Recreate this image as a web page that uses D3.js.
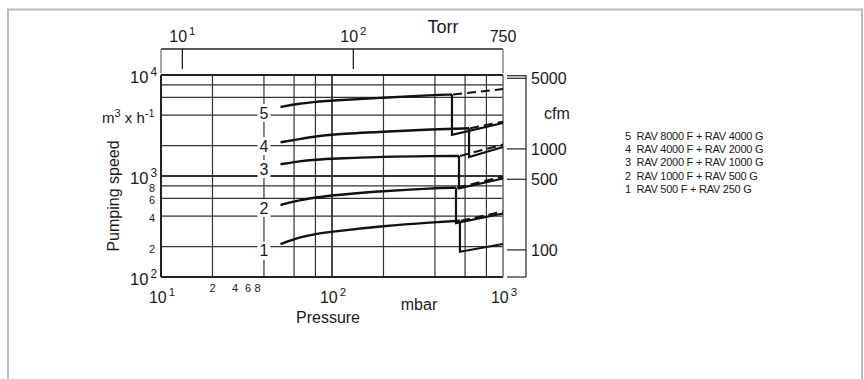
<!DOCTYPE html>
<html><head><meta charset="utf-8">
<script src="https://cdn.jsdelivr.net/npm/d3@7"></script>
<style>
body{margin:0;background:#fff}
svg{display:block}
text{font-family:"Liberation Sans",Arial,Helvetica,sans-serif;fill:#1a1a1a}
</style>
</head><body>
<svg id="chart" width="864" height="379"></svg>
<script>
// ---------------- data ----------------
const pressureDomain = [10, 1000];          // mbar
const speedDomain = [100, 10000];           // m3/h
const xGridValues = [20, 40, 60, 80, 100, 200, 400, 600, 800];
const yGridValues = [200, 400, 600, 800, 1000, 2000, 4000, 6000, 8000];
const yMinorLabelValues = [800, 600, 400, 200];
const yMinorLabels = ["8", "6", "4", "2"];
const xMinorLabels = ["2", "4", "6", "8"];
const xMinorLabelValues = [2, 4, 6, 8];
const xDecades = [1, 2, 3];   // 10^1..10^3 mbar
const yDecades = [4, 3, 2];   // 10^4..10^2 m3/h
const torrTicks = [10, 100, 750];
const torrLabels = ["10^1", "10^2", "750"];
const cfmTicks = [5000, 1000, 500, 100];
const cfmToM3h = 1.855;

const curveIds = [5, 4, 3, 2, 1];
const mainPressure = [
  [50, 65, 80, 100, 200, 390, 503],
  [50, 65, 80, 100, 200, 390, 633],
  [50, 65, 80, 100, 200, 390, 553],
  [50, 65, 80, 100, 200, 390, 531],
  [50, 65, 80, 100, 200, 390, 560]
];
const mainSpeed = [
  [4820, 5220, 5430, 5590, 5960, 6340, 6410],
  [2157, 2324, 2461, 2587, 2746, 2900, 2967],
  [1306, 1408, 1450, 1484, 1553, 1578, 1580],
  [516, 579, 613, 644, 710, 755, 766],
  [212, 249, 267, 281, 320, 348, 361]
];
const dropSpeed = [2550, 1542, 755, 342, 178];      // after switch-over
const backingEndSpeed = [3350, 1937, 945, 425, 212];  // at 1000 mbar
const dashedEndSpeed = [7270, 3450, 2050, 989, 445];  // at 1000 mbar
const curveLabelSpeed = [4205, 1982, 1173, 482, 182];
const curveLabelPressure = 40;

const legendItems = [
  "5  RAV 8000 F + RAV 4000 G",
  "4  RAV 4000 F + RAV 2000 G",
  "3  RAV 2000 F + RAV 1000 G",
  "2  RAV 1000 F + RAV 500 G",
  "1  RAV 500 F + RAV 250 G"
];

// ---------------- layout ----------------
const svg = d3.select("#chart");
const L = 161, R = 503, T = 75, B = 277;
const x = d3.scaleLog().domain(pressureDomain).range([L, R]);
const y = d3.scaleLog().domain(speedDomain).range([B, T]);
const xTorr = d3.scaleLog().domain([pressureDomain[0] * 0.750062, pressureDomain[1] * 0.750062]).range([L, R]);
const yCfm = v => y(v * cfmToM3h);

// outer frame
svg.append("path").attr("d", "M8,381V9.5H862V381")
  .attr("fill", "none").attr("stroke", "#bcbcbc").attr("stroke-width", 2);

const grid = svg.append("g");
xGridValues.forEach(v => {
  grid.append("line").attr("x1", x(v)).attr("x2", x(v)).attr("y1", T).attr("y2", B)
    .attr("stroke", "#333").attr("stroke-width", v === 100 ? 1.8 : 1.2);
});
yGridValues.forEach(v => {
  grid.append("line").attr("x1", L).attr("x2", R).attr("y1", y(v)).attr("y2", y(v))
    .attr("stroke", "#333").attr("stroke-width", v === 1000 ? 1.8 : 1.2);
});
// plot border
svg.append("line").attr("x1", L).attr("x2", R).attr("y1", T).attr("y2", T).attr("stroke", "#222").attr("stroke-width", 2);
svg.append("line").attr("x1", L).attr("x2", R).attr("y1", B).attr("y2", B).attr("stroke", "#222").attr("stroke-width", 2);
svg.append("line").attr("x1", L).attr("x2", L).attr("y1", T).attr("y2", B).attr("stroke", "#222").attr("stroke-width", 2);
svg.append("line").attr("x1", R).attr("x2", R).attr("y1", T).attr("y2", B).attr("stroke", "#666").attr("stroke-width", 1.5);

// superscript label helper
function powLabel(g, px, py, base, exp, size, anchor) {
  const t = g.append("text").attr("x", px).attr("y", py).attr("font-size", size).attr("text-anchor", anchor);
  t.append("tspan").text(base);
  t.append("tspan").attr("dy", -size * 0.45).attr("dx", 2).attr("font-size", size * 0.72).text(exp);
  return t;
}

// left axis labels
yDecades.forEach(e => powLabel(svg, 157, y(Math.pow(10, e)) + 8, "10", e, 16.5, "end"));
yMinorLabelValues.forEach((v, i) => {
  svg.append("text").attr("x", 155).attr("y", y(v) + 6).attr("font-size", 11)
    .attr("text-anchor", "end").text(yMinorLabels[i]);
});
// unit m3 x h-1
const unit = svg.append("text").attr("x", 102).attr("y", 123).attr("font-size", 15);
unit.append("tspan").text("m");
unit.append("tspan").attr("dy", -6).attr("font-size", 11).text("3");
unit.append("tspan").attr("dy", 6).text(" x h");
unit.append("tspan").attr("dy", -6).attr("font-size", 11).text("-1");
svg.append("text").attr("transform", "translate(119,196) rotate(-90)")
  .attr("text-anchor", "middle").attr("font-size", 16).text("Pumping speed");

// bottom axis labels
xDecades.forEach(e => powLabel(svg, x(Math.pow(10, e)) + 1, 303, "10", e, 16, "middle"));
const xMinorScale = d3.scaleLog().domain([2, 8]).range([x(20), x(20) + 45]);
xMinorLabelValues.forEach((v, i) => {
  svg.append("text").attr("x", xMinorScale(v)).attr("y", 292).attr("font-size", 11)
    .attr("text-anchor", "middle").text(xMinorLabels[i]);
});
svg.append("text").attr("x", 419).attr("y", 310).attr("font-size", 16).attr("text-anchor", "middle").text("mbar");
svg.append("text").attr("x", 328).attr("y", 323).attr("font-size", 16).attr("text-anchor", "middle").text("Pressure");

// top Torr axis
const topY = 49;
svg.append("line").attr("x1", L).attr("x2", R).attr("y1", topY).attr("y2", topY).attr("stroke", "#222").attr("stroke-width", 1.5);
[L, R].forEach(px => svg.append("line").attr("x1", px).attr("x2", px).attr("y1", topY).attr("y2", T - 2)
  .attr("stroke", "#888").attr("stroke-width", 1.5));
torrTicks.slice(0, 2).forEach(v => svg.append("line").attr("x1", xTorr(v)).attr("x2", xTorr(v))
  .attr("y1", topY).attr("y2", topY + 20).attr("stroke", "#222").attr("stroke-width", 1.3));
torrTicks.forEach((v, i) => {
  const lab = torrLabels[i];
  if (lab.includes("^")) {
    const [b, e] = lab.split("^");
    powLabel(svg, xTorr(v), 41.7, b, e, 16, "middle");
  } else {
    svg.append("text").attr("x", xTorr(v)).attr("y", 41.7).attr("font-size", 16).attr("text-anchor", "middle").text(lab);
  }
});
svg.append("text").attr("x", 443).attr("y", 33).attr("font-size", 18).attr("text-anchor", "middle").text("Torr");

// right cfm axis
const rx = 526, rt = 507;
svg.append("line").attr("x1", rx).attr("x2", rx).attr("y1", T).attr("y2", B).attr("stroke", "#333").attr("stroke-width", 1.3);
svg.append("line").attr("x1", rt).attr("x2", rx).attr("y1", T + 0.7).attr("y2", T + 0.7).attr("stroke", "#333").attr("stroke-width", 1.3);
svg.append("line").attr("x1", rt).attr("x2", rx).attr("y1", B).attr("y2", B).attr("stroke", "#333").attr("stroke-width", 1.3);
cfmTicks.forEach(v => {
  svg.append("line").attr("x1", rt).attr("x2", rx).attr("y1", yCfm(v)).attr("y2", yCfm(v))
    .attr("stroke", "#333").attr("stroke-width", 1.3);
  svg.append("text").attr("x", 531).attr("y", yCfm(v)).attr("dy", "0.36em").attr("font-size", 16).text(v);
});
svg.append("text").attr("x", 544).attr("y", (yCfm(cfmTicks[0]) + yCfm(cfmTicks[1])) / 2)
  .attr("dy", "0.36em").attr("font-size", 16).text("cfm");

// curve labels with white boxes
const labG = svg.append("g");
curveIds.forEach((id, i) => {
  const cx = x(curveLabelPressure), cy = y(curveLabelSpeed[i]);
  labG.append("rect").attr("x", cx - 6.5).attr("y", cy - 9).attr("width", 13).attr("height", 18).attr("fill", "#fff");
  labG.append("text").attr("x", cx).attr("y", cy).attr("dy", "0.36em").attr("font-size", 16)
    .attr("text-anchor", "middle").text(id);
});

// curves
const smooth = d3.line().x(d => x(d[0])).y(d => y(d[1])).curve(d3.curveBasis);
const straight = d3.line().x(d => x(d[0])).y(d => y(d[1]));
const cg = svg.append("g").attr("fill", "none").attr("stroke", "#111");
curveIds.forEach((id, i) => {
  const pts = mainPressure[i].map((p, j) => [p, mainSpeed[i][j]]);
  const last = pts[pts.length - 1];
  cg.append("path").attr("d", smooth(pts)).attr("stroke-width", 2.4);
  cg.append("path").attr("d", straight([last, [last[0], dropSpeed[i]], [pressureDomain[1], backingEndSpeed[i]]]))
    .attr("stroke-width", 2.2).attr("stroke-linejoin", "miter");
  cg.append("path").attr("d", straight([[last[0] * 1.015, last[1]], [pressureDomain[1], dashedEndSpeed[i]]]))
    .attr("stroke-width", 2).attr("stroke-dasharray", "9,5");
});

// legend
legendItems.forEach((t, i) => {
  svg.append("text").attr("x", 625).attr("y", 139.8 + i * 13.3).attr("font-size", 11)
    .attr("letter-spacing", "-0.25px").attr("xml:space", "preserve").text(t);
});
</script>
</body></html>
